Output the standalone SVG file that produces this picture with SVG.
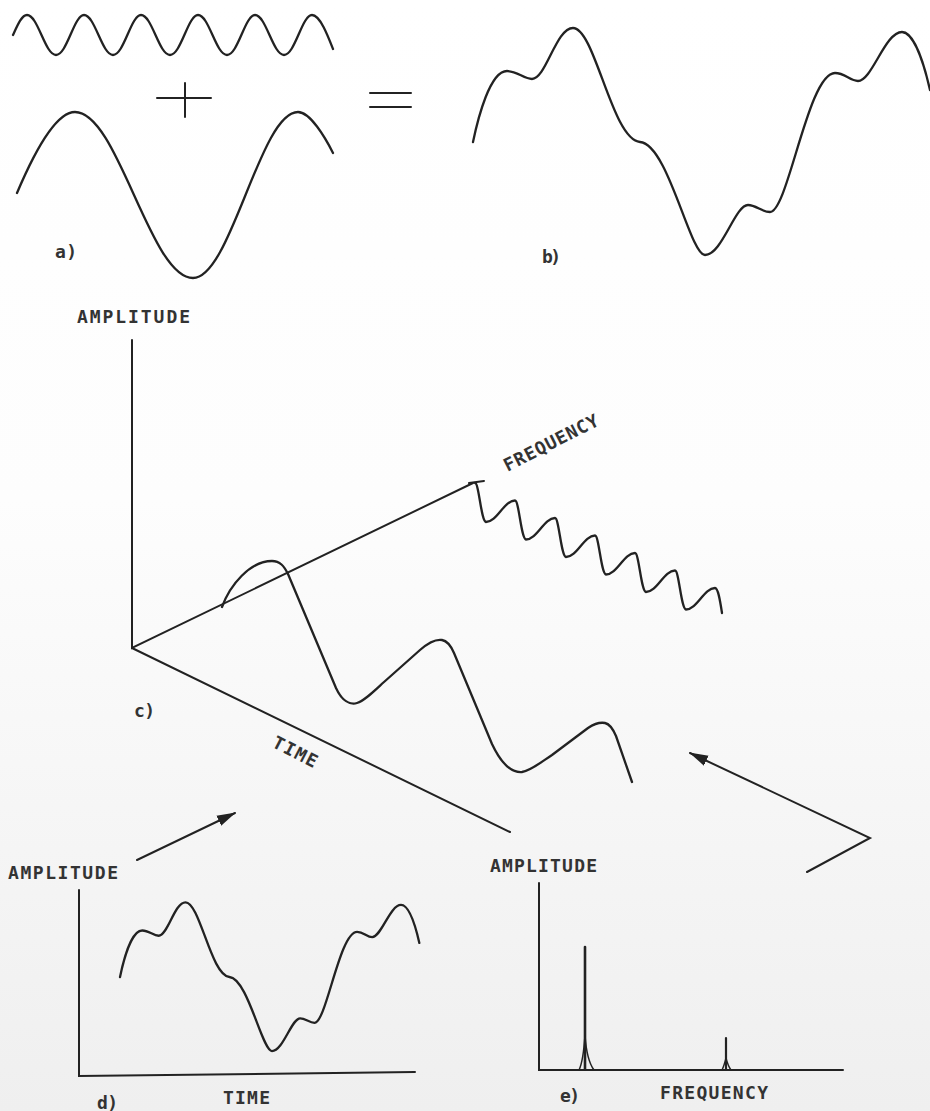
<svg xmlns="http://www.w3.org/2000/svg" width="930" height="1111" viewBox="0 0 930 1111">
  <defs>
    <linearGradient id="bg" x1="0" y1="0" x2="0" y2="1">
      <stop offset="0" stop-color="#ffffff"/>
      <stop offset="0.45" stop-color="#fdfdfd"/>
      <stop offset="1" stop-color="#efefef"/>
    </linearGradient>
    <marker id="arrow" markerUnits="userSpaceOnUse" markerWidth="20" markerHeight="12" refX="18" refY="6" orient="auto">
      <path d="M0,0.5 L19,6 L0,11.5 z" fill="#222"/>
    </marker>
    <path id="sumwave" d="M473,142 C478,118 490,71 507,71 C517,71 524,79 532,79 C546,79 556,28 573,28 C595,28 612,140 640,142 S690,255 705,255 C722,255 735,205 748,205 C756,205 762,212 770,212 C788,212 808,73 835,73 C845,73 850,81 858,81 C872,81 885,32 902,32 C912,32 922,55 930,90"/>
  </defs>
  <style>
    .ln { fill: none; stroke: #222; stroke-width: 2.3; stroke-linecap: round; stroke-linejoin: round; }
    .ax { fill: none; stroke: #222; stroke-width: 2; stroke-linecap: round; }
    .lbl { font-family: "DejaVu Sans Mono", "Liberation Mono", monospace; font-weight: bold; font-size: 18px; fill: #333; }
  </style>
  <rect x="0" y="0" width="930" height="1111" fill="url(#bg)"/>

  <g id="panel-a">
    <path class="ln" d="M13,35 C18,24 22,15 27,15 C38,15 45,55 56,55 C67,55 74,15 84,15 C95,15 102,55 113,55 C124,55 131,15 141,15 C152,15 159,55 170,55 C181,55 188,15 198,15 C209,15 216,55 227,55 C238,55 245,15 255,15 C266,15 273,55 284,55 C295,55 302,15 312,15 C320,15 328,36 333,49"/>
    <path class="ax" d="M157,98 L211,98 M185,83 L185,117"/>
    <path class="ln" d="M17,193 C31,160 54,112 75,112 C118,112 150,278 193,278 C231,278 260,112 298,112 C310,112 325,137 333,153"/>
    <text class="lbl" x="55" y="258" textLength="22">a)</text>
  </g>

  <g id="equals">
    <path class="ax" d="M370,93 L411,93 M370,107 L411,107"/>
  </g>

  <g id="panel-b">
    <use href="#sumwave" class="ln"/>
    <text class="lbl" x="542" y="263" textLength="19">b)</text>
  </g>

  <g id="panel-c">
    <text class="lbl" x="77" y="323" textLength="113">AMPLITUDE</text>
    <path class="ax" d="M132,340 L132,648 L473,483 M132,648 L510,832"/>
    <path class="ax" d="M469,483 L484,481"/>
    <text class="lbl" x="551" y="449" text-anchor="middle" textLength="104" transform="rotate(-27 551 443)">FREQUENCY</text>
    <text class="lbl" x="295" y="758" text-anchor="middle" textLength="48" transform="rotate(27 295 752)">TIME</text>
    <text class="lbl" x="134" y="717" textLength="21">c)</text>
    <path class="ln" d="M475,483 C479,483 481,521 486,522 C497,522 504,500.5 515,500.5 C519,500.5 521,538.5 526,539.5 C537,539.5 544,518 555,518 C559,518 561,556 566,557 C577,557 584,535.5 595,535.5 C599,535.5 601,573.5 606,574.5 C617,574.5 624,553 635,553 C639,553 641,591 646,592 C657,592 664,570.5 675,570.5 C679,570.5 681,608.5 686,609.5 C697,609.5 704,588 715,588 C718,588 720,600 722,613"/>
    <path class="ln" d="M222,607 C230,585 250,561 272,561 C280,561 284,566 288,574 L336,688 C342,701 350,705 357,703 C364,701 372,693 384,682 L420,650 C428,643 436,639 442,640 C448,641 451,646 454,653 L492,744 C500,761 510,773 522,772 C530,771 540,763 552,755 L588,728 C594,724 600,722 605,723 C610,724 613,729 616,736 L632,782"/>
  </g>

  <g id="connectors">
    <path class="ax" d="M137,860 L235,813" marker-end="url(#arrow)"/>
    <path class="ax" d="M807,872 L870,838 L690,753" marker-end="url(#arrow)"/>
  </g>

  <g id="panel-d">
    <text class="lbl" x="8" y="879" textLength="110">AMPLITUDE</text>
    <path class="ax" d="M79,890 L79,1076 L415,1072"/>
    <use href="#sumwave" class="ln" style="stroke-width:3.5" transform="matrix(0.655,0,0,0.655,-189.8,884)"/>
    <text class="lbl" x="223" y="1104" textLength="47">TIME</text>
    <text class="lbl" x="97" y="1109" textLength="21">d)</text>
  </g>

  <g id="panel-e">
    <text class="lbl" x="490" y="872" textLength="107">AMPLITUDE</text>
    <path class="ax" d="M539,883 L539,1070 L843,1070"/>
    <path class="ax" style="stroke-width:2.6" d="M585,947 L585,1069"/>
    <path class="ax" style="stroke-width:1.5" d="M579,1070 C583,1062 584,1050 585,1035 C586,1050 588,1062 594,1070"/>
    <path class="ax" style="stroke-width:2.2" d="M726,1038 L726,1069"/>
    <path class="ax" style="stroke-width:1.4" d="M722,1070 C724,1066 725,1062 726,1058 C727,1062 728,1066 731,1070"/>
    <text class="lbl" x="560" y="1102" textLength="20">e)</text>
    <text class="lbl" x="660" y="1099" textLength="108">FREQUENCY</text>
  </g>
</svg>
